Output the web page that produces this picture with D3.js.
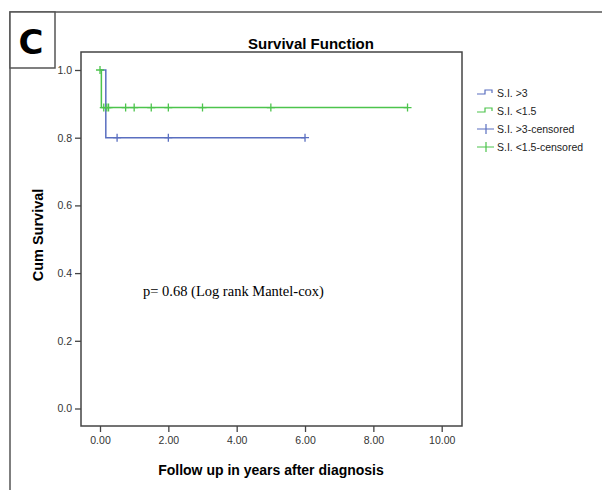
<!DOCTYPE html>
<html>
<head>
<meta charset="utf-8">
<script src="https://d3js.org/d3.v7.min.js"></script>
<style>
    body { margin: 0; background: #fff; }
    text { font-family: "Liberation Sans", Arial, sans-serif; }
</style>
</head>
<body>
<svg width="602" height="490"></svg>
<script>
    // step curves (time in years, cumulative survival)
    var highTimes = [0, 0.17, 6.0];
    var highSurv = [1.0, 0.8, 0.8];
    var lowTimes = [0, 0.04, 9.0];
    var lowSurv = [1.0, 0.889, 0.889];

    // censored observations
    var highCensTimes = [0.5, 2.0, 6.0];
    var highCensSurv = [0.8, 0.8, 0.8];
    var lowCensTimes = [0, 0.11, 0.2, 0.25, 0.75, 1.0, 1.5, 2.0, 3.0, 5.0, 9.0];
    var lowCensSurv = [1.0, 0.889, 0.889, 0.889, 0.889, 0.889, 0.889, 0.889, 0.889, 0.889, 0.889];

    var xTicks = [0, 2, 4, 6, 8, 10];
    var yTicks = [0, 0.2, 0.4, 0.6, 0.8, 1.0];
    var legendLabels = ["S.I. >3", "S.I. <1.5", "S.I. >3-censored", "S.I. <1.5-censored"];

    var blue = "#5a6fc0", green = "#4cc44c";

    var svg = d3.select("svg");

    // outer panel frame
    svg.append("path")
        .attr("d", "M10,490V12H602")
        .attr("fill", "none").attr("stroke", "#555").attr("stroke-width", 1.5);
    svg.append("rect")
        .attr("x", 10).attr("y", 12).attr("width", 45).attr("height", 56)
        .attr("fill", "#fff").attr("stroke", "#555").attr("stroke-width", 1.5);
    svg.append("text")
        .attr("x", 31).attr("y", 54)
        .attr("text-anchor", "middle")
        .style("font-family", "'DejaVu Sans', sans-serif")
        .style("font-weight", "bold").style("font-size", "34px")
        .text("C");

    var box = { left: 81, top: 52, right: 462, bottom: 426 };

    var x = d3.scaleLinear().domain([0, 10]).range([100, 441.7]);
    var y = d3.scaleLinear().domain([0, 1]).range([408.5, 70]);

    svg.append("rect")
        .attr("x", box.left).attr("y", box.top)
        .attr("width", box.right - box.left).attr("height", box.bottom - box.top)
        .attr("fill", "none").attr("stroke", "#444").attr("stroke-width", 1.5);

    var xAxis = svg.append("g")
        .attr("transform", "translate(0," + box.bottom + ")")
        .call(d3.axisBottom(x).tickValues(xTicks).tickFormat(d3.format(".2f")).tickSize(6).tickPadding(5));
    var yAxis = svg.append("g")
        .attr("transform", "translate(" + box.left + ",0)")
        .call(d3.axisLeft(y).tickValues(yTicks).tickFormat(d3.format(".1f")).tickSize(6).tickPadding(3));
    [xAxis, yAxis].forEach(function (a) {
        a.select(".domain").remove();
        a.selectAll("line").attr("stroke", "#444").attr("stroke-width", 1.3);
        a.selectAll("text").attr("fill", "#333").style("font-size", "10.5px")
            .style("font-family", "'Liberation Sans', Arial, sans-serif");
    });

    svg.append("text")
        .attr("x", 311).attr("y", 49).attr("text-anchor", "middle")
        .style("font-weight", "bold").style("font-size", "15px")
        .text("Survival Function");
    svg.append("text")
        .attr("x", 271).attr("y", 475).attr("text-anchor", "middle")
        .style("font-weight", "bold").style("font-size", "14px")
        .text("Follow up in years after diagnosis");
    svg.append("text")
        .attr("transform", "translate(43,235) rotate(-90)").attr("text-anchor", "middle")
        .style("font-weight", "bold").style("font-size", "14.5px")
        .text("Cum Survival");

    svg.append("text")
        .attr("x", 143).attr("y", 296)
        .style("font-family", "'Liberation Serif', 'Times New Roman', serif")
        .style("font-size", "14.5px")
        .text("p= 0.68 (Log rank Mantel-cox)");

    var line = d3.line()
        .x(function (d) { return x(d[0]); })
        .y(function (d) { return y(d[1]); })
        .curve(d3.curveStepAfter);

    function curve(times, surv, color) {
        svg.append("path")
            .datum(d3.zip(times, surv))
            .attr("d", line)
            .attr("fill", "none").attr("stroke", color).attr("stroke-width", 1.5);
    }
    function censors(times, surv, color) {
        var g = svg.append("g");
        d3.zip(times, surv).forEach(function (d) {
            var cx = x(d[0]), cy = y(d[1]);
            g.append("path")
                .attr("d", "M" + (cx - 4) + "," + cy + "H" + (cx + 4) + "M" + cx + "," + (cy - 4) + "V" + (cy + 4))
                .attr("stroke", color).attr("stroke-width", 1.3);
        });
    }

    curve(highTimes, highSurv, blue);
    curve(lowTimes, lowSurv, green);
    censors(highCensTimes, highCensSurv, blue);
    censors(lowCensTimes, lowCensSurv, green);

    // legend
    var lg = svg.append("g").attr("transform", "translate(477,0)");
    var rows = [94, 112, 130, 148];
    legendLabels.forEach(function (lab, i) {
        var col = i % 2 === 0 ? blue : green;
        var ry = rows[i];
        if (i < 2) {
            lg.append("path")
                .attr("d", "M0," + ry + "H8V" + (ry - 4) + "H15V" + (ry - 1))
                .attr("fill", "none").attr("stroke", col).attr("stroke-width", 1.2);
        } else {
            lg.append("path")
                .attr("d", "M0," + (ry - 1) + "H17M9," + (ry - 6) + "V" + (ry + 4))
                .attr("fill", "none").attr("stroke", col).attr("stroke-width", 1.2);
        }
        lg.append("text")
            .attr("x", 20).attr("y", ry + 3)
            .attr("fill", "#222").style("font-size", "10.5px")
            .text(lab);
    });
</script>
</body>
</html>
